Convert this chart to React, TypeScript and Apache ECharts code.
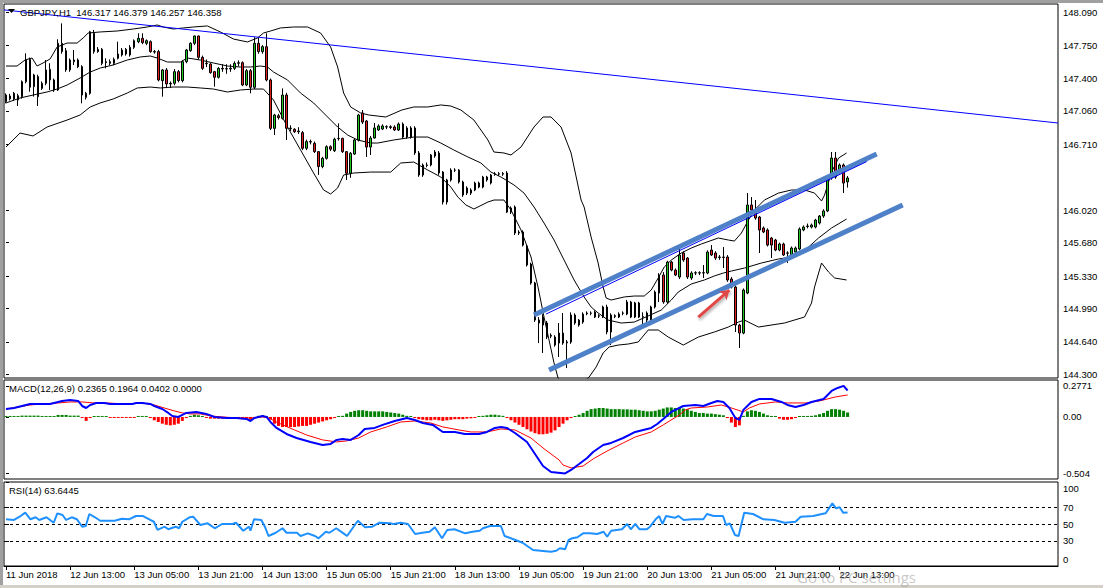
import React, { useEffect, useRef } from "react";
import * as echarts from "echarts";

const FONT = "Liberation Sans, Arial, sans-serif";
const SLOTS = 263;
const LABEL_STEP = 16;
const timeLabels = ["11 Jun 2018", "12 Jun 13:00", "13 Jun 05:00", "13 Jun 21:00", "14 Jun 13:00", "15 Jun 05:00", "15 Jun 21:00", "18 Jun 13:00", "19 Jun 05:00", "19 Jun 21:00", "20 Jun 13:00", "21 Jun 05:00", "21 Jun 21:00", "22 Jun 13:00"];

const openP = [
  147.158, 147.217, 147.186, 147.220, 147.210, 147.367, 147.601, 147.315, 147.420, 147.297,
  147.350, 147.385, 147.385, 147.280, 147.769, 147.692, 147.490, 147.577, 147.594, 147.524,
  147.203, 147.245, 147.874, 147.682, 147.706, 147.577, 147.559, 147.559, 147.612, 147.699,
  147.657, 147.647, 147.727, 147.786, 147.821, 147.769, 147.786, 147.682, 147.682, 147.378,
  147.490, 147.350, 147.350, 147.472, 147.378, 147.577, 147.692, 147.769, 147.846, 147.622,
  147.560, 147.552, 147.472, 147.413, 147.507, 147.500, 147.500, 147.507, 147.560, 147.566,
  147.332, 147.482, 147.308, 147.769, 147.682, 147.734, 147.385, 146.878, 147.010, 146.983,
  147.227, 146.880, 146.868, 146.843, 146.833, 146.669, 146.739, 146.721, 146.634, 146.477,
  146.564, 146.686, 146.644, 146.770, 146.773, 146.634, 146.407, 146.609, 146.756, 147.039,
  146.955, 146.682, 146.777, 146.861, 146.871, 146.892, 146.895, 146.892, 146.861, 146.923,
  146.882, 146.787, 146.882, 146.620, 146.389, 146.494, 146.494, 146.588, 146.620, 146.420,
  146.106, 146.337, 146.441, 146.441, 146.316, 146.253, 146.200, 146.232, 146.263, 146.263,
  146.368, 146.305, 146.395, 146.402, 146.398, 146.410, 146.001, 146.054, 145.781, 145.792,
  145.645, 145.456, 145.257, 144.869, 144.901, 144.838, 144.700, 144.691, 144.628, 144.733,
  144.630, 144.639, 144.922, 144.817, 144.848, 144.935, 144.943, 144.953, 144.910, 144.901,
  145.006, 144.744, 144.915, 144.901, 144.940, 144.932, 145.058, 144.901, 145.048, 144.900,
  144.869, 144.869, 145.006, 145.152, 145.341, 145.058, 145.477, 145.393, 145.320, 145.572,
  145.519, 145.310, 145.362, 145.365, 145.362, 145.362, 145.603, 145.572, 145.525, 145.530,
  145.530, 145.299, 145.215, 144.817, 144.733, 145.152, 146.075, 146.001, 145.949, 145.834,
  145.813, 145.729, 145.708, 145.603, 145.666, 145.572, 145.551, 145.582, 145.614, 145.813,
  145.850, 145.844, 145.844, 145.886, 145.959, 146.012, 146.358, 146.567, 146.420, 146.494,
  146.317,
];
const closeP = [
  147.227, 147.186, 147.245, 147.175, 147.367, 147.594, 147.308, 147.437, 147.210, 147.350,
  147.490, 147.496, 147.280, 147.769, 147.682, 147.490, 147.594, 147.594, 147.524, 147.227,
  147.245, 147.890, 147.682, 147.706, 147.559, 147.566, 147.577, 147.601, 147.657, 147.647,
  147.706, 147.727, 147.797, 147.821, 147.776, 147.797, 147.682, 147.678, 147.385, 147.490,
  147.343, 147.343, 147.472, 147.378, 147.577, 147.699, 147.769, 147.846, 147.622, 147.507,
  147.555, 147.462, 147.413, 147.507, 147.500, 147.503, 147.507, 147.559, 147.566, 147.332,
  147.482, 147.308, 147.769, 147.682, 147.734, 147.385, 146.878, 147.018, 146.990, 147.227,
  146.878, 146.875, 146.843, 146.850, 146.669, 146.739, 146.735, 146.634, 146.477, 146.564,
  146.686, 146.660, 146.763, 146.773, 146.634, 146.407, 146.616, 146.756, 147.018, 146.944,
  146.682, 146.777, 146.882, 146.903, 146.903, 146.895, 146.887, 146.861, 146.923, 146.787,
  146.787, 146.882, 146.620, 146.389, 146.494, 146.490, 146.599, 146.630, 146.410, 146.106,
  146.337, 146.441, 146.440, 146.316, 146.179, 146.200, 146.232, 146.305, 146.305, 146.368,
  146.337, 146.389, 146.402, 146.398, 146.405, 146.001, 146.043, 145.781, 145.790, 145.655,
  145.446, 145.257, 144.869, 144.838, 144.817, 144.691, 144.710, 144.607, 144.733, 144.628,
  144.640, 144.922, 144.838, 144.869, 144.932, 144.943, 144.940, 144.901, 144.915, 145.006,
  144.744, 144.922, 144.905, 144.932, 144.943, 145.058, 144.901, 145.048, 144.901, 144.905,
  144.943, 145.006, 145.163, 145.341, 145.058, 145.477, 145.393, 145.341, 145.551, 145.498,
  145.320, 145.362, 145.365, 145.362, 145.365, 145.582, 145.551, 145.519, 145.530, 145.525,
  145.289, 145.215, 144.817, 144.733, 145.184, 146.075, 146.022, 145.938, 145.813, 145.792,
  145.655, 145.655, 145.603, 145.666, 145.551, 145.570, 145.624, 145.624, 145.823, 145.844,
  145.855, 145.865, 145.917, 145.959, 146.012, 146.368, 146.567, 146.368, 146.494, 146.305,
  146.358,
];
const lowP = [
  147.140, 147.170, 147.170, 147.112, 147.190, 147.350, 147.262, 147.210, 147.112, 147.280,
  147.330, 147.280, 147.260, 147.270, 147.660, 147.470, 147.470, 147.542, 147.510, 147.140,
  147.180, 147.230, 147.660, 147.670, 147.540, 147.507, 147.540, 147.540, 147.600, 147.630,
  147.640, 147.630, 147.710, 147.770, 147.760, 147.750, 147.670, 147.660, 147.370, 147.210,
  147.300, 147.300, 147.330, 147.360, 147.360, 147.560, 147.680, 147.750, 147.600, 147.490,
  147.520, 147.450, 147.315, 147.400, 147.470, 147.450, 147.470, 147.490, 147.530, 147.320,
  147.320, 147.245, 147.290, 147.660, 147.660, 147.370, 146.860, 146.808, 146.970, 146.970,
  146.756, 146.850, 146.830, 146.820, 146.650, 146.650, 146.710, 146.620, 146.390, 146.460,
  146.550, 146.640, 146.630, 146.750, 146.620, 146.337, 146.360, 146.600, 146.740, 146.923,
  146.578, 146.599, 146.770, 146.850, 146.860, 146.870, 146.870, 146.850, 146.850, 146.770,
  146.770, 146.770, 146.600, 146.370, 146.370, 146.470, 146.480, 146.570, 146.390, 146.080,
  146.080, 146.320, 146.420, 146.300, 146.160, 146.180, 146.180, 146.220, 146.250, 146.250,
  146.320, 146.290, 146.380, 146.380, 146.380, 145.990, 145.980, 145.760, 145.760, 145.640,
  145.430, 145.240, 144.850, 144.628, 144.524, 144.670, 144.680, 144.590, 144.482, 144.610,
  144.366, 144.620, 144.820, 144.800, 144.830, 144.920, 144.920, 144.890, 144.890, 144.890,
  144.720, 144.607, 144.890, 144.890, 144.920, 144.920, 144.890, 144.890, 144.890, 144.817,
  144.800, 144.850, 144.990, 145.058, 145.040, 145.040, 145.380, 145.330, 145.300, 145.480,
  145.300, 145.290, 145.340, 145.340, 145.310, 145.350, 145.540, 145.500, 145.500, 145.414,
  145.270, 145.200, 144.744, 144.576, 144.720, 145.140, 146.000, 145.920, 145.572, 145.780,
  145.640, 145.519, 145.590, 145.590, 145.540, 145.467, 145.540, 145.570, 145.600, 145.800,
  145.830, 145.830, 145.830, 145.870, 145.940, 146.000, 146.340, 146.350, 146.400, 146.200,
  146.257,
];
const highP = [
  147.245, 147.240, 147.260, 147.240, 147.380, 147.664, 147.620, 147.450, 147.440, 147.370,
  147.594, 147.560, 147.400, 147.811, 147.978, 147.720, 147.610, 147.699, 147.610, 147.540,
  147.260, 147.900, 147.909, 147.730, 147.720, 147.612, 147.600, 147.620, 147.786, 147.720,
  147.720, 147.750, 147.810, 147.874, 147.874, 147.810, 147.800, 147.700, 147.700, 147.500,
  147.510, 147.370, 147.500, 147.490, 147.590, 147.710, 147.780, 147.850, 147.850, 147.640,
  147.600, 147.560, 147.480, 147.520, 147.550, 147.550, 147.550, 147.580, 147.590, 147.580,
  147.500, 147.500, 147.832, 147.832, 147.750, 147.874, 147.400, 147.030, 147.030, 147.297,
  147.250, 146.910, 146.880, 146.890, 146.850, 146.760, 146.760, 146.740, 146.640, 146.580,
  146.700, 146.700, 146.780, 146.930, 146.780, 146.640, 146.630, 146.770, 147.030, 147.070,
  146.965, 146.798, 146.934, 146.920, 146.920, 146.910, 146.910, 146.910, 146.940, 146.940,
  146.900, 146.900, 146.900, 146.640, 146.510, 146.520, 146.610, 146.650, 146.640, 146.430,
  146.350, 146.460, 146.460, 146.450, 146.330, 146.270, 146.250, 146.320, 146.320, 146.380,
  146.380, 146.400, 146.420, 146.420, 146.420, 146.430, 146.060, 146.070, 145.810, 145.810,
  145.660, 145.470, 145.270, 144.900, 144.930, 144.860, 144.730, 144.710, 144.838, 144.943,
  144.660, 144.950, 144.940, 144.880, 144.950, 144.960, 144.960, 144.970, 144.930, 145.020,
  145.030, 144.940, 144.930, 144.950, 144.960, 145.080, 145.070, 145.060, 145.060, 144.950,
  144.960, 145.020, 145.180, 145.360, 145.372, 145.490, 145.490, 145.410, 145.624, 145.590,
  145.530, 145.380, 145.380, 145.380, 145.446, 145.600, 145.655, 145.590, 145.550, 145.634,
  145.550, 145.320, 145.230, 144.830, 145.200, 146.200, 146.158, 146.127, 145.960, 145.850,
  145.830, 145.740, 145.720, 145.680, 145.680, 145.590, 145.640, 145.640, 145.840, 145.860,
  145.880, 145.880, 145.930, 145.970, 146.030, 146.380, 146.630, 146.630, 146.510, 146.510,
  146.379,
];

const bbUpper = [
  [0, 147.531], [2.75, 147.531], [4.75, 147.594], [6.5, 147.615], [7.75, 147.531], [9.25, 147.563], [11, 147.605], [12.75, 147.73], [15.25, 147.772], [17.75, 147.772], [19.25, 147.825], [20.5, 147.877], [23.5, 147.888], [27.75, 147.898], [31.75, 147.919], [35.25, 147.94], [37.75, 147.961], [39.25, 147.94], [41.75, 147.919], [44.25, 147.93], [46.75, 147.94], [50.25, 147.951], [53.5, 147.888], [56.75, 147.814], [60.25, 147.783], [62.75, 147.825], [64.25, 147.877], [66, 147.898], [68.5, 147.93], [71.75, 147.94], [75.25, 147.94], [78.5, 147.877], [81, 147.73], [82.75, 147.521], [84.25, 147.248], [86, 147.102], [88.5, 147.039], [90.5, 147.018], [94.75, 146.997], [98.75, 147.07], [101.75, 147.102], [105.25, 147.102], [108.5, 147.123], [111, 147.112], [113.5, 147.07], [116.75, 146.965], [120.25, 146.756], [121.75, 146.63], [124.25, 146.62], [126, 146.599], [128.5, 146.682], [131.75, 146.892], [134, 146.997], [136, 146.997], [138.5, 146.892], [141, 146.62], [143.5, 146.127], [144.25, 146.054], [146, 145.739], [147.75, 145.467], [149, 145.215], [149.75, 145.1], [151, 145.079], [154.25, 145.111], [156.75, 145.121], [159.25, 145.121], [161, 145.184], [162.75, 145.31], [164.25, 145.425], [166, 145.498], [168.5, 145.572], [171, 145.624], [173.5, 145.666], [177.75, 145.729], [180.25, 145.708], [181.75, 145.697], [183.5, 145.781], [185.25, 145.917], [186.75, 146.022], [189.25, 146.127], [192.75, 146.2], [196, 146.232], [199.25, 146.232], [201.75, 146.2], [203.5, 146.117], [204.25, 146.179], [206, 146.42], [207.75, 146.567], [209.75, 146.62],
];
const bbMiddle = [
  [0, 147.144], [3.5, 147.196], [6.75, 147.227], [10.25, 147.259], [12.75, 147.29], [15.25, 147.332], [18.5, 147.406], [21, 147.468], [23.5, 147.51], [26.75, 147.542], [30.25, 147.594], [33.5, 147.626], [36, 147.636], [37.75, 147.615], [40.25, 147.573], [43.5, 147.573], [45.25, 147.615], [48.5, 147.594], [51.75, 147.563], [55.25, 147.531], [58.5, 147.521], [61, 147.521], [63.5, 147.531], [65.25, 147.521], [66.75, 147.468], [70.25, 147.385], [73.5, 147.248], [76.75, 147.144], [80.25, 146.997], [82.75, 146.892], [85.25, 146.808], [87.75, 146.756], [91, 146.724], [92.75, 146.724], [96.75, 146.756], [101.75, 146.787], [105.25, 146.787], [108.5, 146.724], [111.75, 146.651], [115.25, 146.578], [118.5, 146.515], [121, 146.42], [123.5, 146.368], [126.75, 146.285], [129.25, 146.2], [131.75, 146.054], [134.25, 145.886], [136.75, 145.708], [139.25, 145.498], [141.75, 145.289], [144.25, 145.111], [146, 145.006], [147.75, 144.943], [150.25, 144.869], [153.5, 144.838], [156.75, 144.848], [160.25, 144.912], [163.5, 144.974], [166, 145.079], [167.75, 145.163], [171, 145.247], [174.25, 145.289], [176.75, 145.331], [179, 145.362], [181, 145.383], [184.25, 145.414], [188.5, 145.467], [192.75, 145.509], [196, 145.53], [200.25, 145.634], [202.75, 145.729], [206, 145.834], [209.75, 145.928],
];
const bbLower = [
  [0, 146.682], [3.5, 146.829], [6.75, 146.798], [10.25, 146.892], [15.25, 146.965], [18.5, 147.018], [21, 147.102], [23.5, 147.144], [26.75, 147.186], [30.25, 147.248], [32.75, 147.301], [36, 147.311], [38.5, 147.301], [41.75, 147.311], [45.25, 147.311], [48.5, 147.301], [51.75, 147.29], [55.25, 147.259], [58.5, 147.28], [61.75, 147.29], [64.25, 147.29], [66.75, 147.175], [70.25, 146.892], [73.5, 146.651], [76.75, 146.41], [79.25, 146.232], [81, 146.19], [82.75, 146.253], [84.25, 146.389], [86.75, 146.41], [91, 146.42], [96, 146.42], [98.5, 146.515], [101.75, 146.525], [105.25, 146.441], [108.5, 146.368], [111, 146.263], [112.75, 146.158], [114.75, 146.075], [116.75, 146.033], [120.25, 146.106], [121.75, 146.127], [124.25, 146.127], [126, 146.022], [128.5, 145.813], [131, 145.53], [132.75, 145.215], [134.25, 144.901], [135.5, 144.66], [136.75, 144.419], [137.75, 144.262], [141, 144.115], [145.5, 144.272], [147.25, 144.377], [149, 144.524], [150.5, 144.587], [152.75, 144.607], [155.25, 144.618], [157.75, 144.639], [160.25, 144.765], [162.75, 144.765], [165.25, 144.691], [169, 144.607], [172.75, 144.691], [176.75, 144.744], [180.25, 144.796], [182.75, 144.848], [184.25, 144.869], [187.75, 144.796], [194.25, 144.838], [199.25, 144.901], [201, 145.048], [201.75, 145.215], [203.5, 145.467], [205.25, 145.372], [206.75, 145.31], [209.75, 145.289],
];

const trendLine = [[-0.5, 148.119], [262.5, 146.934]];
const channelUpper = [[131.75, 144.922], [217.25, 146.609]];
const channelLower = [[135.5, 144.345], [223.75, 146.075]];
const channelThin = [[134.75, 144.932], [214.75, 146.529]];
const arrowCoords = [[172.75, 144.901], [180.5, 145.184]];

const macdMain = [
  [0, 0.071], [2, 0.08], [6, 0.116], [11, 0.116], [14, 0.143], [16, 0.152], [18, 0.143], [19, 0.098], [20, 0.08], [21, 0.107], [22.5, 0.125], [24.5, 0.125], [26, 0.116], [31.5, 0.116], [32.5, 0.125], [34, 0.125], [36, 0.116], [37, 0.098], [39, 0.071], [40.5, 0.036], [41.5, 0.009], [43, 0], [44, 0.018], [45, 0.036], [47.5, 0.045], [50, 0.027], [52, 0], [55, -0.009], [57.5, -0.009], [60, -0.018], [61, -0.036], [62, -0.009], [64, 0.009], [65, 0], [66, -0.045], [67.5, -0.098], [70, -0.152], [72.5, -0.188], [76, -0.223], [79, -0.25], [81, -0.241], [82.5, -0.205], [84, -0.196], [86, -0.205], [88, -0.161], [89.5, -0.107], [92, -0.098], [94, -0.071], [97, -0.036], [100, -0.009], [102, -0.027], [104, -0.054], [106.5, -0.071], [109, -0.134], [112, -0.134], [114.5, -0.152], [118, -0.152], [120, -0.134], [122, -0.098], [123.5, -0.089], [125, -0.098], [127, -0.143], [130, -0.223], [132.5, -0.357], [134, -0.438], [136, -0.491], [139.5, -0.504], [141, -0.473], [143, -0.42], [145, -0.366], [146.5, -0.313], [149, -0.25], [151, -0.232], [154, -0.188], [157, -0.134], [161, -0.098], [162.5, -0.063], [164, -0.018], [166, 0.045], [169, 0.098], [172, 0.107], [174, 0.098], [176, 0.125], [177.5, 0.143], [179, 0.134], [180.5, 0.08], [182, -0.009], [183, -0.027], [184, 0.063], [186, 0.134], [188, 0.161], [191, 0.161], [193.5, 0.134], [195, 0.107], [197, 0.089], [199, 0.107], [201, 0.134], [204, 0.161], [206, 0.232], [207.5, 0.259], [209, 0.2771], [210, 0.2365],
];
const macdSignal = [
  [0, 0.071], [3, 0.089], [6, 0.107], [9, 0.116], [13, 0.125], [16, 0.134], [19, 0.134], [22, 0.125], [25, 0.125], [30, 0.116], [34, 0.125], [37, 0.107], [39.5, 0.08], [42, 0.054], [44, 0.036], [46, 0.027], [48.5, 0.027], [51, 0.009], [54, 0], [57.5, -0.009], [61, -0.009], [64, 0], [65.5, -0.009], [68, -0.054], [72, -0.116], [75, -0.161], [79, -0.205], [82.5, -0.223], [85, -0.214], [88, -0.188], [91, -0.134], [95, -0.089], [98.5, -0.045], [102, -0.036], [106, -0.054], [109, -0.089], [113, -0.116], [116, -0.134], [120, -0.134], [123.5, -0.107], [127, -0.116], [131, -0.188], [134, -0.277], [138, -0.384], [139, -0.429], [141, -0.455], [144, -0.438], [146.5, -0.375], [150, -0.304], [154, -0.232], [157, -0.179], [161, -0.134], [164, -0.071], [168, 0.018], [169.5, 0.063], [171, 0.08], [175, 0.089], [178.5, 0.107], [181, 0.08], [184, 0.045], [185.5, 0.08], [188, 0.116], [192, 0.134], [195, 0.125], [199.5, 0.125], [203, 0.143], [207, 0.179], [210, 0.1964],
];
const macdHist = [
  0.004, 0.004, 0.004, 0.004, 0.012, 0.012, 0.012, 0.012, 0.012, 0.008,
  0.008, 0.008, 0.008, 0.018, 0.018, 0.018, 0.012, 0.012, 0.012, -0.005,
  -0.035, -0.01, 0.004, 0.004, 0.004, 0.004, -0.004, -0.004, -0.004, -0.004,
  -0.004, -0.004, -0.004, 0.004, 0.004, 0.004, -0.01, -0.03, -0.045, -0.06,
  -0.07, -0.075, -0.07, -0.06, -0.035, -0.01, 0.01, 0.02, 0.015, 0.005,
  -0.008, -0.015, -0.015, -0.015, -0.015, -0.015, -0.015, -0.015, -0.015, -0.02,
  -0.02, -0.025, -0.01, 0.01, 0.015, 0.005, -0.02, -0.06, -0.08, -0.09,
  -0.09, -0.09, -0.09, -0.085, -0.08, -0.08, -0.07, -0.06, -0.05, -0.04,
  -0.03, -0.02, -0.01, 0.002, 0.01, 0.03, 0.045, 0.055, 0.06, 0.06,
  0.055, 0.05, 0.05, 0.05, 0.05, 0.045, 0.04, 0.035, 0.03, 0.02,
  0.01, 0.002, -0.01, -0.02, -0.025, -0.03, -0.03, -0.025, -0.03, -0.035,
  -0.03, -0.025, -0.02, -0.02, -0.02, -0.015, -0.012, -0.008, 0.005, 0.01,
  0.015, 0.02, 0.02, 0.015, 0.01, -0.01, -0.03, -0.05, -0.07, -0.09,
  -0.11, -0.13, -0.145, -0.155, -0.155, -0.15, -0.14, -0.12, -0.09, -0.06,
  -0.03, -0.01, 0.005, 0.02, 0.035, 0.055, 0.07, 0.075, 0.08, 0.08,
  0.075, 0.07, 0.07, 0.07, 0.068, 0.068, 0.065, 0.065, 0.06, 0.055,
  0.05, 0.05, 0.055, 0.065, 0.075, 0.085, 0.085, 0.08, 0.08, 0.075,
  0.07, 0.055, 0.045, 0.035, 0.035, 0.03, 0.03, 0.025, 0.02, 0.015,
  -0.01, -0.05, -0.09, -0.075, 0.01, 0.05, 0.06, 0.055, 0.045, 0.03,
  0.015, 0.005, 0.002, -0.015, -0.025, -0.025, -0.02, -0.01, 0.003, 0.005,
  0.008, 0.01, 0.015, 0.025, 0.035, 0.055, 0.07, 0.07, 0.065, 0.055,
  0.0402,
];
const rsiLine = [
  [0, 55.6], [2, 54.8], [3.4, 58.7], [4.8, 63.5], [6.1, 55.6], [7.4, 58], [8.3, 54.8], [10.1, 58], [11.9, 51.5], [12.8, 62.7], [14.1, 60.7], [15, 54.8], [16.4, 58], [17.7, 55.6], [19, 46.8], [19.9, 47.6], [20.8, 61.9], [22.2, 58], [23.5, 53.9], [27.1, 53.9], [28.9, 56.3], [30.7, 55.6], [32.4, 59.5], [34.2, 59.5], [36, 54.8], [36.9, 52.7], [37.8, 42.9], [39.6, 46.8], [40.5, 43.7], [42.3, 46.8], [43.2, 44.9], [44, 52.7], [45.8, 58], [46.7, 58.7], [48.5, 48.8], [50.3, 50.8], [52.1, 44.9], [53.9, 50], [56.5, 50], [57.4, 51.5], [59.2, 42], [60.6, 46.8], [61, 42], [61.9, 55.6], [63.7, 54.8], [64.6, 46.8], [65.5, 35.7], [67.3, 39.6], [69, 44.9], [70, 39.6], [72.6, 39.6], [73.5, 35.7], [75.3, 38.9], [77.1, 35.7], [78, 33], [79.8, 40.8], [80.7, 39.6], [82.4, 44.9], [84.2, 38.9], [85.1, 35.7], [87.8, 53.9], [89.6, 46.1], [91.4, 46.8], [93.2, 51.5], [95.8, 50.8], [96.7, 50], [98.5, 51.5], [100.3, 50], [102.1, 38.1], [103.9, 39.6], [105.7, 40.8], [107, 46.1], [108.8, 33], [110.1, 42.9], [111.9, 43.7], [114.6, 38.9], [116.4, 40.8], [118.2, 42], [119, 44.9], [120.8, 47.6], [123.5, 47.6], [124.4, 35.7], [125.3, 34.2], [127.1, 31], [128.9, 27.7], [131.5, 19], [134, 17.9], [136, 17], [137.3, 18.2], [138.2, 21.1], [139.5, 19.9], [140.4, 31], [141.3, 33], [142.6, 34.2], [144, 38.9], [145.7, 38.9], [147.5, 38.1], [149.1, 40.8], [150, 34.9], [151, 42], [152.4, 42.9], [153.7, 43.7], [155, 50], [155.9, 43.7], [157, 50], [158.1, 43.7], [159.9, 43.7], [160.7, 46.8], [162.1, 55.6], [163, 59.5], [163.8, 50], [164.7, 59.5], [166.9, 57.4], [167.8, 59.5], [169.1, 54.8], [171.3, 55.6], [174, 55.6], [174.9, 61.9], [176.6, 59.5], [178.9, 59.5], [179.7, 48.8], [180.6, 50.8], [181.9, 36.9], [182.8, 35.7], [184.2, 63.5], [186.4, 61.9], [189, 55.6], [191.7, 54.8], [194.3, 51.5], [197, 52.7], [198.3, 58.7], [201.4, 59.5], [203.6, 61.9], [204.5, 62.7], [206.2, 74.6], [207.1, 68.7], [208, 69.9], [208.9, 63.5], [210, 63.6445],
];

const priceTicks = [148.09, 147.75, 147.4, 147.06, 146.71, 146.02, 145.68, 145.33, 144.99, 144.64, 144.3];
const lastPrice = 146.358;
const macdTicks = [0.2771, 0, -0.504];
const macdTickText = ["0.2771", "0.00", "-0.504"];
const rsiTicks = [100, 70, 50, 30, 0];
const rsiLevels = [70, 50, 30];

const titleText = "GBPJPY,H1  146.317 146.379 146.257 146.358";
const macdTitle = "MACD(12,26,9) 0.2365 0.1964 0.0402 0.0000";
const rsiTitle = "RSI(14) 63.6445";

export default function App() {
  const ref = useRef<HTMLDivElement>(null);
  useEffect(() => {
    if (!ref.current) return;
    const chart = echarts.init(ref.current, undefined, { renderer: "svg" });
    const cats = Array.from({ length: SLOTS }, (_, i) => String(i));
    const isLabel = (i: number) => i % LABEL_STEP === 0 && i / LABEL_STEP < timeLabels.length;
    const candles = openP.map((o, i) => [o, closeP[i], lowP[i], highP[i]]);
    const blackLine = { color: "#000", width: 1 };
    const lineSeries = (name: string, data: number[][], xi: number, yi: number, lineStyle: any, z = 3) => ({
      name, type: "line", xAxisIndex: xi, yAxisIndex: yi, data, symbol: "none", silent: true, lineStyle, z,
    });
    const hiddenCat = (gi: number) => ({ type: "category", gridIndex: gi, data: cats, show: false, boundaryGap: true });
    const hiddenVal = (gi: number, pos: string) => ({ type: "value", gridIndex: gi, min: -0.5, max: SLOTS - 0.5, show: false, position: pos });
    const axisFont = { color: "#000", fontSize: 9.5, fontFamily: FONT };

    chart.setOption({
      animation: false,
      backgroundColor: "#fff",
      grid: [
        { left: 4, top: 4, width: 1054, height: 374, show: true, borderColor: "#000", borderWidth: 1 },
        { left: 4, top: 380, width: 1054, height: 99, show: true, borderColor: "#000", borderWidth: 1 },
        { left: 4, top: 482, width: 1054, height: 84, show: true, borderColor: "#000", borderWidth: 1 },
      ],
      xAxis: [
        hiddenCat(0),
        hiddenVal(0, "bottom"),
        hiddenCat(1),
        hiddenVal(1, "bottom"),
        hiddenVal(2, "top"),
        {
          type: "category", gridIndex: 2, data: cats, position: "bottom", boundaryGap: true,
          axisLine: { show: true, lineStyle: { color: "#000" } },
          axisTick: { show: true, alignWithLabel: true, length: 4, interval: (i: number) => isLabel(i), lineStyle: { color: "#000" } },
          axisLabel: { ...axisFont, interval: (i: number) => isLabel(i), formatter: (v: string) => timeLabels[Number(v) / LABEL_STEP] || "", align: "left", margin: 3 },
          splitLine: { show: false },
        },
      ],
      yAxis: [
        {
          type: "value", gridIndex: 0, position: "right", min: 144.262, max: 148.181,
          axisLine: { show: false }, splitLine: { show: false },
          axisTick: { show: true, length: 3, customValues: priceTicks, lineStyle: { color: "#000" } },
          axisLabel: { ...axisFont, customValues: priceTicks, formatter: (v: number) => v.toFixed(3), margin: 5 },
        },
        {
          type: "value", gridIndex: 1, position: "right", min: -0.554, max: 0.33,
          axisLine: { show: false }, splitLine: { show: false },
          axisTick: { show: true, length: 3, customValues: macdTicks, lineStyle: { color: "#000" } },
          axisLabel: { ...axisFont, customValues: macdTicks, margin: 5, formatter: (v: number) => { const k = macdTicks.findIndex((t) => Math.abs(t - v) < 1e-6); return k >= 0 ? macdTickText[k] : ""; } },
        },
        {
          type: "value", gridIndex: 2, position: "right", min: 0, max: 100,
          axisLine: { show: false }, splitLine: { show: false },
          axisTick: { show: true, length: 3, customValues: rsiTicks, lineStyle: { color: "#000" } },
          axisLabel: {
            ...axisFont, customValues: rsiTicks, margin: 5,
            formatter: (v: number) => (v === 100 ? "{t|100}" : v === 0 ? "{b|0}" : String(v)),
            rich: {
              t: { ...axisFont, padding: [13, 0, 0, 0] },
              b: { ...axisFont, padding: [0, 0, 14, 0] },
            },
          },
        },
      ],
      series: [
        lineSeries("BB upper", bbUpper, 1, 0, blackLine),
        lineSeries("BB middle", bbMiddle, 1, 0, blackLine),
        lineSeries("BB lower", bbLower, 1, 0, blackLine),
        {
          name: "GBPJPY", type: "candlestick", xAxisIndex: 0, yAxisIndex: 0, data: candles, barWidth: 2, z: 4,
          itemStyle: { color: "#1ec81e", color0: "#e41e1e", borderColor: "#000", borderColor0: "#000", borderWidth: 1 },
          markLine: {
            silent: true, symbol: "none", animation: false,
            lineStyle: { opacity: 0 },
            label: { show: true, position: "end", distance: 2, formatter: () => lastPrice.toFixed(3), backgroundColor: "#000", color: "#fff", padding: [2, 3, 1, 3], fontSize: 9.5, fontFamily: FONT },
            data: [{ yAxis: lastPrice }],
          },
        },
        lineSeries("Trend", trendLine, 1, 0, { color: "#0000ff", width: 1 }, 5),
        lineSeries("Channel upper", channelUpper, 1, 0, { color: "#4f81c9", width: 5, cap: "butt" }, 6),
        lineSeries("Channel lower", channelLower, 1, 0, { color: "#4f81c9", width: 5, cap: "butt" }, 6),
        lineSeries("Channel thin", channelThin, 1, 0, { color: "#0000ff", width: 1 }, 6),
        {
          name: "Arrow", type: "lines", coordinateSystem: "cartesian2d", xAxisIndex: 1, yAxisIndex: 0, z: 7, silent: true,
          symbol: ["none", "arrow"], symbolSize: 9,
          lineStyle: { color: "#e14646", width: 3, opacity: 1, shadowColor: "rgba(0,0,0,0.35)", shadowBlur: 3, shadowOffsetX: 1, shadowOffsetY: 2 },
          data: [{ coords: arrowCoords }],
        },
        {
          name: "Histogram", type: "bar", xAxisIndex: 2, yAxisIndex: 1, data: macdHist, barWidth: 3, barMinHeight: 1, silent: true,
          itemStyle: { color: (p: any) => (p.value >= 0 ? "#008000" : "#ff0000") },
        },
        lineSeries("Signal", macdSignal, 3, 1, { color: "#ff0000", width: 1 }, 4),
        lineSeries("MACD", macdMain, 3, 1, { color: "#0000ff", width: 2 }, 5),
        {
          ...lineSeries("RSI", rsiLine, 4, 2, { color: "#1e90ff", width: 2 }, 5),
          markLine: {
            silent: true, symbol: "none", animation: false, label: { show: false },
            lineStyle: { color: "#000", width: 1, type: [3, 3] },
            data: rsiLevels.map((v) => ({ yAxis: v })),
          },
        },
      ],
      graphic: [
        { type: "rect", silent: true, z: 100, shape: { x: 0, y: 0, width: 1103, height: 3 }, style: { fill: "#a0a0a0" } },
        { type: "rect", silent: true, z: 100, shape: { x: 0, y: 0, width: 3, height: 588 }, style: { fill: "#a0a0a0" } },
        { type: "rect", silent: true, z: 100, shape: { x: 0, y: 585, width: 1103, height: 3 }, style: { fill: "#d4d0c8" } },
        { type: "polygon", silent: true, z: 100, shape: { points: [[8, 9], [15, 9], [11.5, 13]] }, style: { fill: "#000" } },
        { type: "text", silent: true, z: 100, x: 20, y: 12, style: { text: titleText, fill: "#000", fontSize: 9.5, fontFamily: FONT, verticalAlign: "middle" } },
        { type: "text", silent: true, z: 100, x: 9, y: 388, style: { text: macdTitle, fill: "#000", fontSize: 9.5, fontFamily: FONT, verticalAlign: "middle" } },
        { type: "text", silent: true, z: 100, x: 9, y: 490, style: { text: rsiTitle, fill: "#000", fontSize: 9.5, fontFamily: FONT, verticalAlign: "middle" } },
        { type: "text", silent: true, z: 101, x: 797, y: 577, style: { text: "Go to PC settings", fill: "rgba(150,150,150,0.55)", fontSize: 15, fontFamily: "Open Sans, sans-serif", verticalAlign: "middle" } },
      ],
    });
    return () => chart.dispose();
  }, []);
  return <div ref={ref} style={{ position: "fixed", left: 0, top: 0, width: 1103, height: 588 }} />;
}
